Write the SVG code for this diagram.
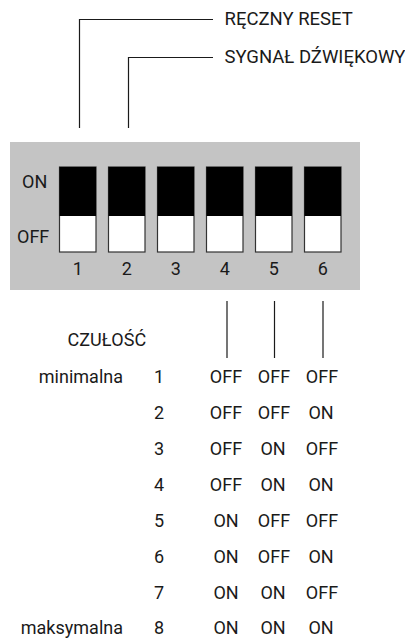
<svg xmlns="http://www.w3.org/2000/svg" width="405" height="639" viewBox="0 0 405 639">
<style>
text{font-family:Roboto,"Liberation Sans",sans-serif;font-size:18px;fill:#1a1a1a}
.big{font-size:18.5px}
.m{text-anchor:middle}
.e{text-anchor:end}
.ln{fill:none;stroke:#1a1a1a;stroke-width:1.2}
.sw{fill:#fff;stroke:#333;stroke-width:1.2}
.on{fill:#000}
</style>
<rect width="405" height="639" fill="#fff"/>
<g id="connectors">
<polyline class="ln" points="79.5,128 79.5,19.5 213,19.5"/>
<polyline class="ln" points="128.5,128 128.5,57.5 213,57.5"/>
<line class="ln" x1="227" y1="301" x2="227" y2="358"/>
<line class="ln" x1="274.5" y1="301" x2="274.5" y2="358"/>
<line class="ln" x1="323" y1="301" x2="323" y2="358"/>
</g>
<g id="labels-top">
<text class="big" x="224.5" y="25">RĘCZNY RESET</text>
<text class="big" x="224.5" y="63">SYGNAŁ DŹWIĘKOWY</text>
</g>
<g id="dip-switch">
<rect x="10" y="142" width="350" height="148" fill="#c4c4c4"/>
<text x="22" y="188">ON</text>
<text x="17" y="243">OFF</text>
<g id="sw1"><rect class="sw" x="59.5" y="167" width="36.5" height="85"/><rect class="on" x="59.5" y="167" width="36.5" height="49"/><text class="m" x="77.7" y="275">1</text></g>
<g id="sw2"><rect class="sw" x="108.5" y="167" width="36.5" height="85"/><rect class="on" x="108.5" y="167" width="36.5" height="49"/><text class="m" x="126.7" y="275">2</text></g>
<g id="sw3"><rect class="sw" x="157.5" y="167" width="36.5" height="85"/><rect class="on" x="157.5" y="167" width="36.5" height="49"/><text class="m" x="175.7" y="275">3</text></g>
<g id="sw4"><rect class="sw" x="206.5" y="167" width="36.5" height="85"/><rect class="on" x="206.5" y="167" width="36.5" height="49"/><text class="m" x="224.7" y="275">4</text></g>
<g id="sw5"><rect class="sw" x="255.5" y="167" width="36.5" height="85"/><rect class="on" x="255.5" y="167" width="36.5" height="49"/><text class="m" x="273.7" y="275">5</text></g>
<g id="sw6"><rect class="sw" x="304.5" y="167" width="36.5" height="85"/><rect class="on" x="304.5" y="167" width="36.5" height="49"/><text class="m" x="322.7" y="275">6</text></g>
</g>
<g id="table">
<text x="67.5" y="346">CZUŁOŚĆ</text>
<text class="e" x="123" y="383">minimalna</text>
<text class="e" x="123" y="634">maksymalna</text>
<g class="m">
<text class="m" x="159" y="383">1</text><text class="m" x="226" y="383">OFF</text><text class="m" x="274" y="383">OFF</text><text class="m" x="322" y="383">OFF</text>
<text class="m" x="159" y="419">2</text><text class="m" x="226" y="419">OFF</text><text class="m" x="274" y="419">OFF</text><text class="m" x="321" y="419">ON</text>
<text class="m" x="159" y="455">3</text><text class="m" x="226" y="455">OFF</text><text class="m" x="273" y="455">ON</text><text class="m" x="322" y="455">OFF</text>
<text class="m" x="159" y="491">4</text><text class="m" x="226" y="491">OFF</text><text class="m" x="273" y="491">ON</text><text class="m" x="321" y="491">ON</text>
<text class="m" x="159" y="527">5</text><text class="m" x="226" y="527">ON</text><text class="m" x="274" y="527">OFF</text><text class="m" x="322" y="527">OFF</text>
<text class="m" x="159" y="562.5">6</text><text class="m" x="226" y="562.5">ON</text><text class="m" x="274" y="562.5">OFF</text><text class="m" x="321" y="562.5">ON</text>
<text class="m" x="159" y="598.5">7</text><text class="m" x="226" y="598.5">ON</text><text class="m" x="273" y="598.5">ON</text><text class="m" x="322" y="598.5">OFF</text>
<text class="m" x="159" y="634">8</text><text class="m" x="226" y="634">ON</text><text class="m" x="273" y="634">ON</text><text class="m" x="321" y="634">ON</text>
</g>
</g>
</svg>
